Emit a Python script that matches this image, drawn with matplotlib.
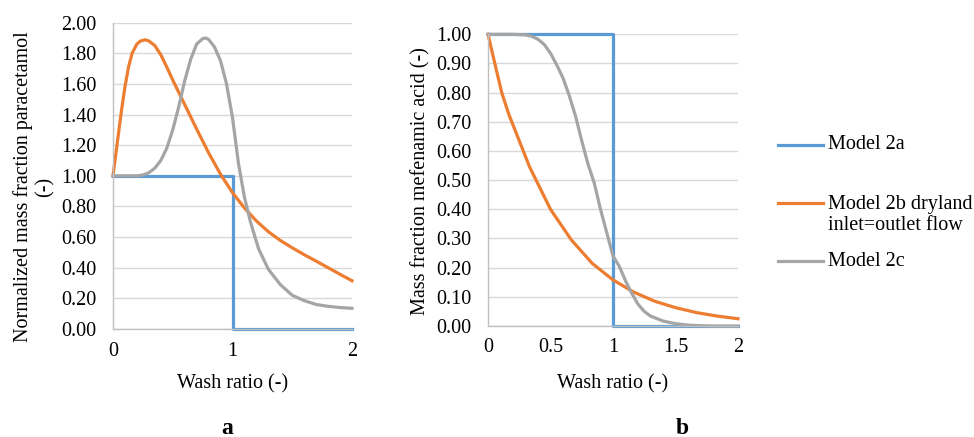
import matplotlib
matplotlib.use("Agg")
import matplotlib.pyplot as plt
from matplotlib.lines import Line2D

# ---- data ----
series_names = ["Model 2a", "Model 2b dryland\ninlet=outlet flow", "Model 2c"]
series_colors = ["#5B9BD5", "#ED7D31", "#A5A5A5"]

# panel a: normalized mass fraction paracetamol
a_step_x = [0, 1, 1, 2]
a_step_y = [1.0, 1.0, 0.0, 0.0]

a_dry_x = [0, 0.02, 0.04, 0.07, 0.1, 0.13, 0.16, 0.2, 0.23, 0.27, 0.3, 0.35,
           0.4, 0.45, 0.5, 0.6, 0.7, 0.8, 0.9, 1.0, 1.1, 1.2, 1.3, 1.4, 1.5,
           1.6, 1.7, 1.8, 1.9, 2.0]
a_dry_y = [1.0, 1.12, 1.24, 1.42, 1.58, 1.71, 1.8, 1.86, 1.88, 1.888, 1.88,
           1.85, 1.79, 1.71, 1.625, 1.465, 1.305, 1.15, 1.01, 0.89, 0.79,
           0.705, 0.635, 0.578, 0.53, 0.485, 0.443, 0.40, 0.357, 0.315]

a_2c_x = [0, 0.1, 0.2, 0.25, 0.3, 0.35, 0.4, 0.45, 0.5, 0.55, 0.6, 0.65, 0.7,
          0.75, 0.775, 0.8, 0.85, 0.9, 0.95, 1.0, 1.05, 1.1, 1.15, 1.2, 1.22,
          1.3, 1.4, 1.5, 1.6, 1.7, 1.8, 1.9, 2.0]
a_2c_y = [1.0, 1.0, 1.0, 1.005, 1.02, 1.05, 1.1, 1.18, 1.3, 1.45, 1.62, 1.76,
          1.86, 1.895, 1.9, 1.89, 1.84, 1.75, 1.6, 1.38, 1.08, 0.86, 0.7,
          0.57, 0.52, 0.39, 0.29, 0.22, 0.185, 0.16, 0.148, 0.14, 0.135]

# panel b: mass fraction mefenamic acid
b_step_x = [0, 1, 1, 2]
b_step_y = [1.0, 1.0, 0.0, 0.0]

b_dry_x = [0, 0.06, 0.11, 0.167, 0.333, 0.5, 0.667, 0.833, 1.0, 1.167,
           1.333, 1.5, 1.667, 1.833, 2.0]
b_dry_y = [1.0, 0.89, 0.8, 0.725, 0.545, 0.40, 0.295, 0.215, 0.158, 0.116,
           0.085, 0.063, 0.046, 0.034, 0.025]

b_2c_x = [0, 0.1, 0.2, 0.3, 0.35, 0.4, 0.45, 0.5, 0.55, 0.6, 0.65, 0.7, 0.75,
          0.8, 0.85, 0.9, 0.95, 1.0, 1.05, 1.1, 1.15, 1.2, 1.25, 1.3, 1.4,
          1.5, 1.6, 1.7, 1.8, 2.0]
b_2c_y = [1.0, 1.0, 1.0, 0.998, 0.993, 0.983, 0.965, 0.935, 0.895, 0.85,
          0.79, 0.72, 0.635, 0.555, 0.49, 0.40, 0.32, 0.24, 0.205, 0.155,
          0.112, 0.075, 0.05, 0.034, 0.017, 0.008, 0.003, 0.001, 0.0, 0.0]

a_yticks = [0.0, 0.2, 0.4, 0.6, 0.8, 1.0, 1.2, 1.4, 1.6, 1.8, 2.0]
a_xticks = [0, 1, 2]
b_yticks = [0.0, 0.1, 0.2, 0.3, 0.4, 0.5, 0.6, 0.7, 0.8, 0.9, 1.0]
b_xticks = [0, 0.5, 1, 1.5, 2]
b_xticklabels = ["0", "0.5", "1", "1.5", "2"]

plt.rcParams["font.family"] = ["Liberation Serif", "DejaVu Serif"]
FS = 14.5
W, H = 974, 437
LW = 2.3


def px_axes(x0, y0, x1, y1):
    # pixel box (top-left origin) -> figure fraction
    return [x0 / W, (H - y1) / H, (x1 - x0) / W, (y1 - y0) / H]


def style(ax, ymax, yticks, ylabels, xticks, xlabels):
    ax.set_xlim(0, 2)
    ax.set_ylim(0, ymax)
    ax.set_yticks(yticks)
    ax.set_yticklabels(ylabels)
    ax.set_xticks(xticks)
    ax.set_xticklabels(xlabels)
    ax.tick_params(axis="both", length=0, labelsize=FS)
    ax.tick_params(axis="y", pad=12)
    ax.tick_params(axis="x", pad=9)
    ax.grid(axis="y", color="#D9D9D9", lw=1.0)
    ax.set_axisbelow(True)
    for s in ["top", "right"]:
        ax.spines[s].set_visible(False)
    for s in ["left", "bottom"]:
        ax.spines[s].set_color("#BFBFBF")
        ax.spines[s].set_linewidth(1.0)


fig = plt.figure(figsize=(W / 100, H / 100), dpi=100)

# panel a
ax1 = fig.add_axes(px_axes(113, 22.6, 352, 329))
ax1.plot(a_step_x, a_step_y, color=series_colors[0], lw=LW, clip_on=False)
ax1.plot(a_dry_x, a_dry_y, color=series_colors[1], lw=LW, clip_on=False)
ax1.plot(a_2c_x, a_2c_y, color=series_colors[2], lw=LW, clip_on=False)
style(ax1, 2.0, a_yticks, ["%.2f" % v for v in a_yticks],
      a_xticks, [str(v) for v in a_xticks])
ax1.set_ylabel("Normalized mass fraction paracetamol\n(-)", fontsize=FS,
               linespacing=1.15)
ax1.yaxis.set_label_coords((34 - 113) / 239, (329 - 187) / 306.4)
ax1.yaxis.label.set_va("center")
ax1.set_xlabel("Wash ratio (-)", fontsize=FS)
ax1.xaxis.set_label_coords(0.5, -(384 - 329) / 306.4)
ax1.xaxis.label.set_va("center")

# panel b
ax2 = fig.add_axes(px_axes(488, 34.3, 738, 326))
ax2.plot(b_step_x, b_step_y, color=series_colors[0], lw=LW, clip_on=False)
ax2.plot(b_dry_x, b_dry_y, color=series_colors[1], lw=LW, clip_on=False)
ax2.plot(b_2c_x, b_2c_y, color=series_colors[2], lw=LW, clip_on=False)
style(ax2, 1.0, b_yticks, ["%.2f" % v for v in b_yticks],
      b_xticks, b_xticklabels)
ax2.set_ylabel("Mass fraction mefenamic acid (-)", fontsize=FS)
ax2.yaxis.set_label_coords((421 - 488) / 250, (326 - 181) / 291.7)
ax2.yaxis.label.set_va("center")
ax2.set_xlabel("Wash ratio (-)", fontsize=FS)
ax2.xaxis.set_label_coords(0.5, -(384 - 326) / 291.7)
ax2.xaxis.label.set_va("center")

# panel letters
fig.text(227 / W, 1 - 428 / H, "a", fontsize=17, fontweight="bold",
         ha="center", va="center")
fig.text(682 / W, 1 - 428 / H, "b", fontsize=17, fontweight="bold",
         ha="center", va="center")

# legend (Excel-style spacing)
leg_line_y = [145, 203, 261]
leg_text_y = [145, 215, 261]
for name, col, ly, ty in zip(series_names, series_colors, leg_line_y, leg_text_y):
    fig.add_artist(Line2D([778 / W, 823 / W], [1 - ly / H, 1 - ly / H],
                          color=col, lw=LW, transform=fig.transFigure))
    fig.text(828 / W, 1 - ty / H, name, fontsize=FS, ha="left", va="center",
             linespacing=1.15)

fig.savefig("out.png", dpi=100)
